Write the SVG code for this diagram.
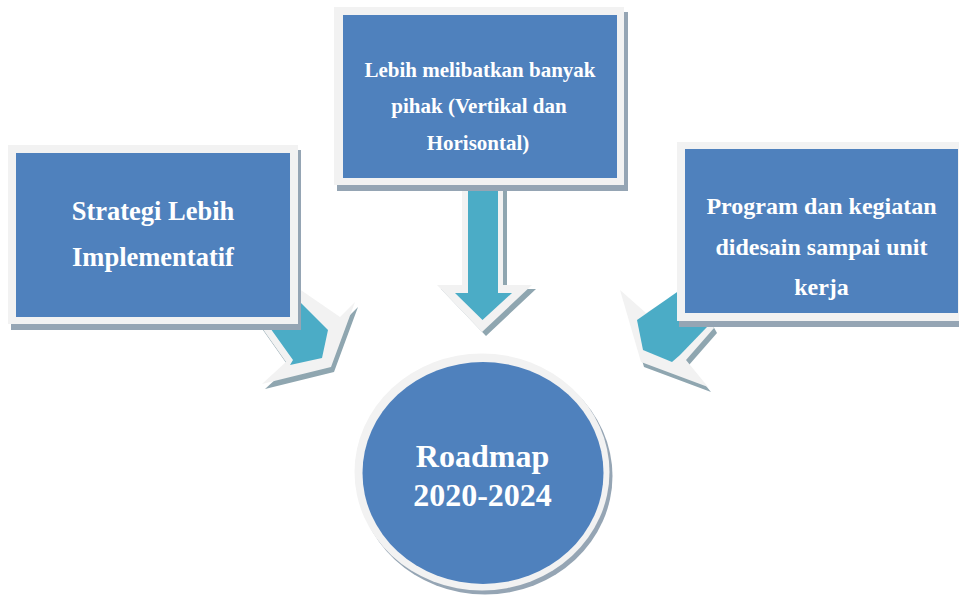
<svg xmlns="http://www.w3.org/2000/svg" width="959" height="595" viewBox="0 0 959 595">
  <defs>
    <style>
      .frame { fill: #f2f2f2; }
      .blue { fill: #4f81bd; }
      .shadow { fill: #95a5b4; }
      .ashadow { fill: #8fa6b0; }
      .teal { fill: #4bacc6; }
      .lbl { font-family: "Liberation Serif", "Times New Roman", serif; font-weight: bold; fill: #ffffff; text-anchor: middle; }
    </style>
  </defs>
  <rect width="959" height="595" fill="#ffffff"/>

  <g id="connectors">
    <g id="arrow-left">
      <polygon class="ashadow" points="295,289 343,322 358,307 334,372 265,389 289,367 258,323"/>
      <polygon class="frame" points="292,284 340,317 355,302 331,367 262,384 286,362 255,318"/>
      <polygon class="teal" points="288,290 328,330 322,358 290,365 293,360 263,318"/>
    </g>
    <g id="arrow-middle">
      <polygon class="ashadow" points="466,174 507,174 507,289 536,289 486,336 441,289 466,289"/>
      <polygon class="frame" points="462,170 503,170 503,285 532,285 482,332 437,285 462,285"/>
      <polygon class="teal" points="468,170 498,170 498,293 512,293 482.5,320 455,293 468,293"/>
    </g>
    <g id="arrow-right">
      <polygon class="ashadow" points="693,290 649,318 623,295 644,367 711,392 689,365 717,333"/>
      <polygon class="frame" points="690,285 646,313 620,290 641,362 708,387 686,360 714,328"/>
      <polygon class="teal" points="680,290 637,320 643,350 672,362 680,355 707,327"/>
    </g>
  </g>

  <g id="node-left">
    <rect class="shadow" x="11" y="150" width="290" height="180"/>
    <rect class="frame" x="8" y="145" width="290" height="179"/>
    <rect class="blue" x="16" y="153" width="274" height="164"/>
    <text class="lbl" font-size="26.5" x="153" y="220">Strategi Lebih</text>
    <text class="lbl" font-size="26.5" x="153" y="266">Implementatif</text>
  </g>

  <g id="node-middle">
    <rect class="shadow" x="337" y="12" width="291" height="179"/>
    <rect class="frame" x="334" y="7" width="290" height="178"/>
    <rect class="blue" x="343" y="15" width="274" height="163"/>
    <text class="lbl" font-size="21" x="480" y="77">Lebih melibatkan banyak</text>
    <text class="lbl" font-size="21" x="479" y="113">pihak (Vertikal dan</text>
    <text class="lbl" font-size="21" x="478" y="149.5">Horisontal)</text>
  </g>

  <g id="node-right">
    <rect class="shadow" x="679" y="147" width="291" height="180"/>
    <rect class="frame" x="677" y="142" width="290" height="179"/>
    <rect class="blue" x="685" y="149" width="273" height="164"/>
    <text class="lbl" font-size="24" x="821.5" y="213.5">Program dan kegiatan</text>
    <text class="lbl" font-size="24" x="821.5" y="255">didesain sampai unit</text>
    <text class="lbl" font-size="24" x="821.5" y="295">kerja</text>
  </g>

  <g id="node-center">
    <ellipse class="shadow" cx="485" cy="476" rx="127.5" ry="118.5"/>
    <ellipse class="frame" cx="482" cy="472" rx="127.5" ry="118.5"/>
    <ellipse class="blue" cx="483" cy="473" rx="120.5" ry="111"/>
    <text class="lbl" font-size="32" x="482.5" y="467">Roadmap</text>
    <text class="lbl" font-size="32" x="482.5" y="505.5">2020-2024</text>
  </g>
</svg>
